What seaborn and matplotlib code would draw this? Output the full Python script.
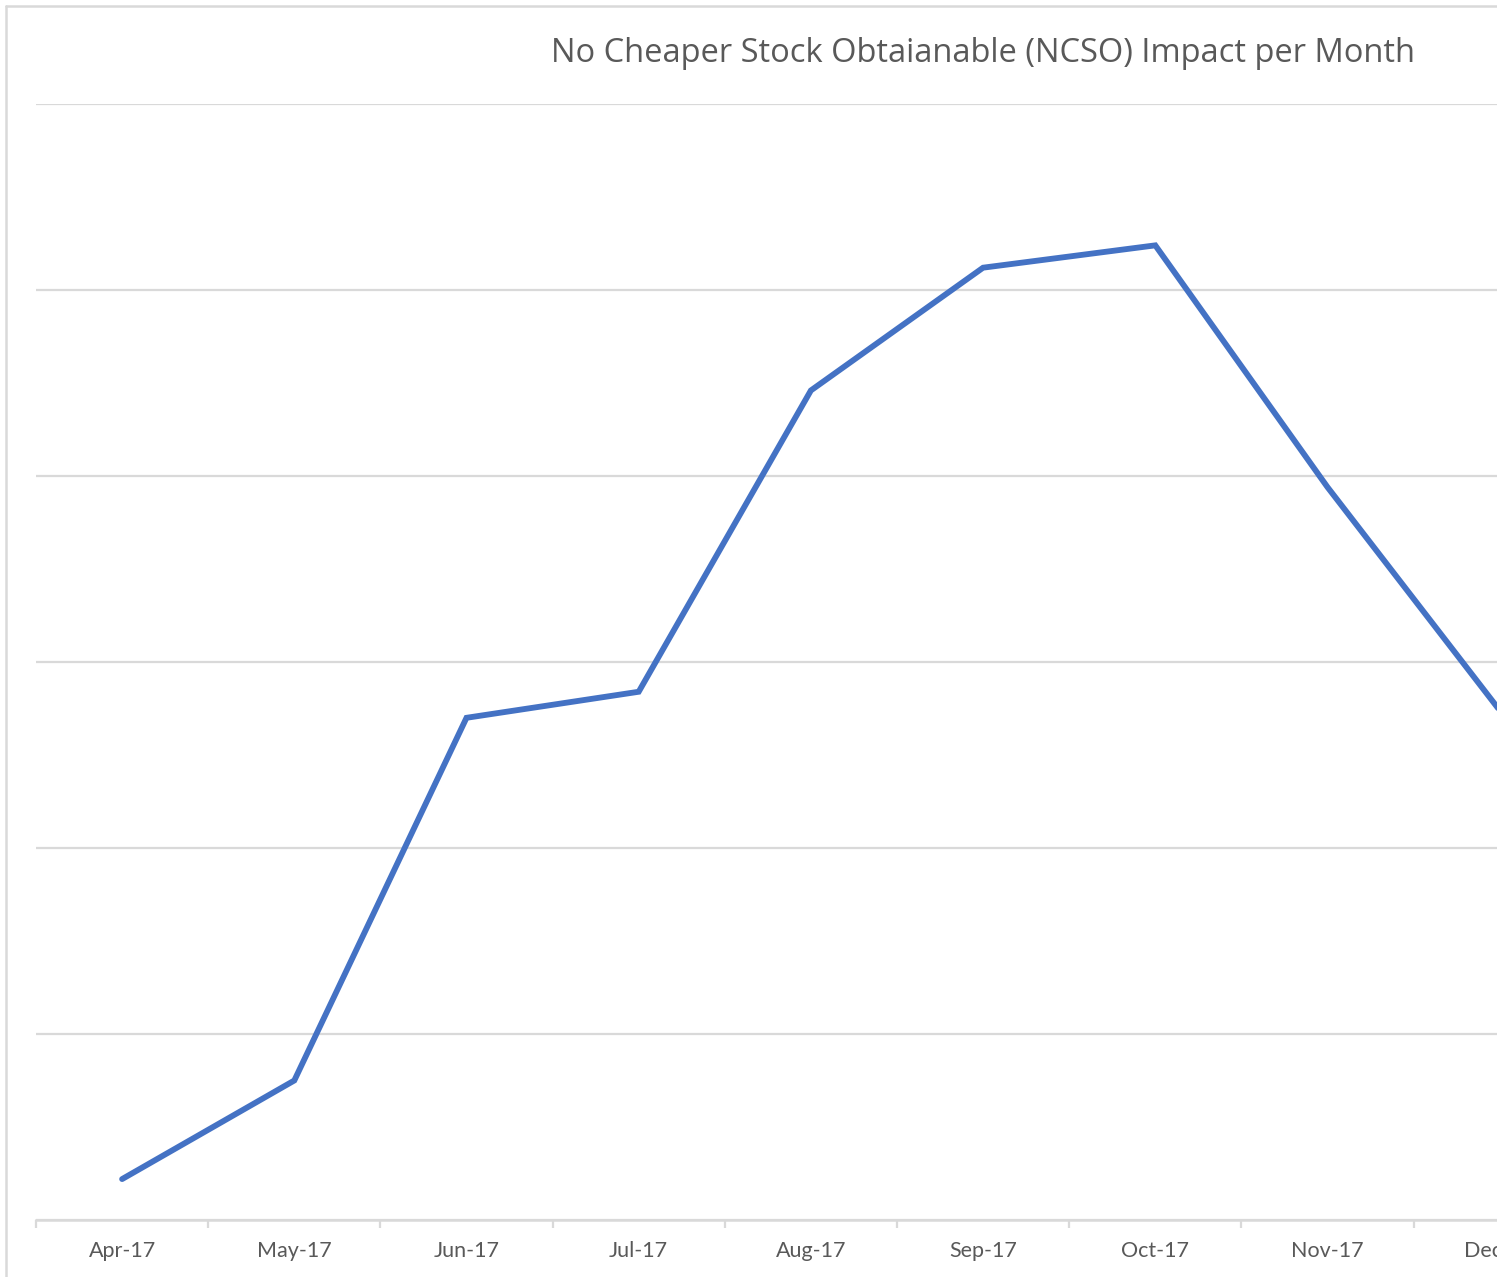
import numpy as np
import pandas as pd
import matplotlib
matplotlib.use("Agg")
import matplotlib.pyplot as plt
import seaborn as sns
from matplotlib.lines import Line2D
from matplotlib.ticker import FixedLocator

# NCSO impact per month (no y scale shown, values in gridline units)
months = ['Apr-17', 'May-17', 'Jun-17', 'Jul-17', 'Aug-17',
          'Sep-17', 'Oct-17', 'Nov-17', 'Dec-17']
impact = [0.22, 0.75, 2.70, 2.84, 4.46, 5.12, 5.24, 3.94, 2.74]

df = pd.DataFrame({'Month': months, 'Impact': impact})
df['pos'] = np.arange(len(months))

sns.set_theme(style='white')
plt.rcParams['font.family'] = ['Lato', 'DejaVu Sans']

W, H = 1497, 1277
fig = plt.figure(figsize=(W / 100, H / 100), dpi=100)
fig.patch.set_facecolor('white')

# axes runs past the right edge, like the cropped screenshot
left, right = 36, 36 + 9 * 172.2
bottom, top = 1220, 104
ax = fig.add_axes([left / W, 1 - bottom / H, (right - left) / W, (bottom - top) / H])

sns.lineplot(data=df, x='pos', y='Impact', ax=ax, color='#4472C4',
             linewidth=4.2, solid_capstyle='round', solid_joinstyle='miter')

ax.set_xlim(-0.5, len(months) - 0.5)
ax.set_ylim(0, 6)
ax.set_yticks(np.arange(0, 7, 1))
ax.set_yticklabels([])
ax.yaxis.grid(True, color='#d9d9d9', linewidth=1.6)
ax.tick_params(axis='y', length=0)

ax.set_xticks(df['pos'])
ax.set_xticklabels(months, color='#595959', fontsize=15.5)
ax.xaxis.set_minor_locator(FixedLocator(np.arange(-0.5, len(months), 1)))
ax.tick_params(axis='x', which='major', length=0, pad=15)
ax.tick_params(axis='x', which='minor', length=6, width=1.6, color='#d9d9d9',
               direction='out', bottom=True)

for s in ['top', 'right', 'left']:
    ax.spines[s].set_visible(False)
ax.spines['bottom'].set_color('#d9d9d9')
ax.spines['bottom'].set_linewidth(1.8)
ax.set_xlabel('')
ax.set_ylabel('')

# chart area border (left and top only visible in crop)
fig.add_artist(Line2D([6 / W, 6 / W], [0, 1 - 6 / H], color='#d9d9d9', linewidth=1.8))
fig.add_artist(Line2D([6 / W, 1], [1 - 6 / H, 1 - 6 / H], color='#d9d9d9', linewidth=1.8))

fig.text(983 / W, 1 - 54 / H, 'No Cheaper Stock Obtaianable (NCSO) Impact per Month',
         ha='center', va='center', fontsize=23.5, color='#595959',
         family=['Open Sans', 'DejaVu Sans'])

fig.savefig('out.png', dpi=100)
